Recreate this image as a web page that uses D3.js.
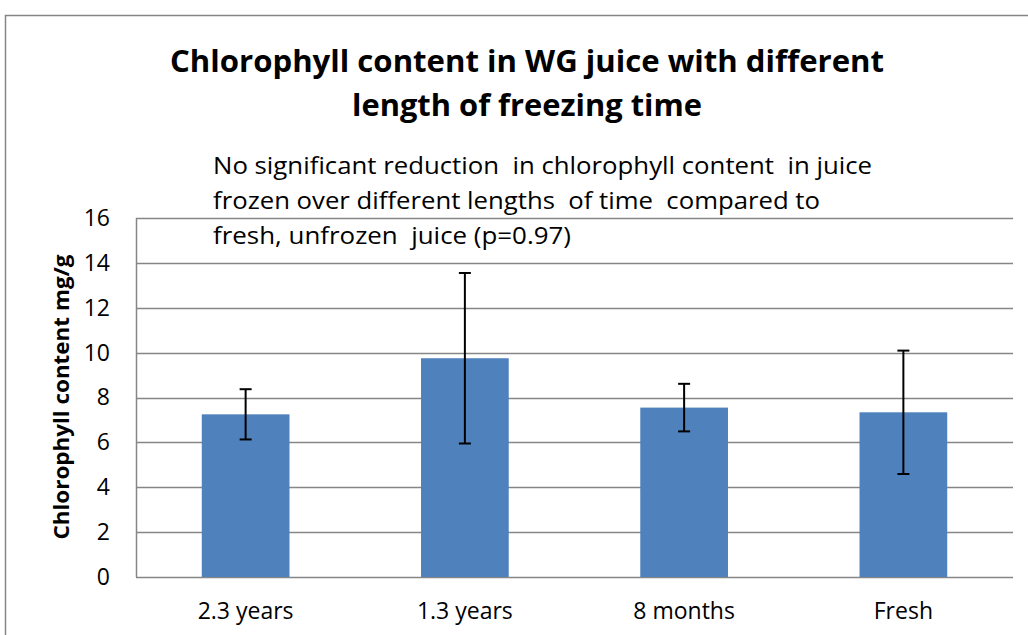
<!DOCTYPE html>
<html>
<head>
<meta charset="utf-8">
<script src="https://cdn.jsdelivr.net/npm/d3@7"></script>
<style>
  body { margin: 0; background: #fff; }
  svg { display: block; font-family: "Open Sans", "Noto Sans", sans-serif; }
</style>
</head>
<body>
<div id="chart"></div>
<script>
// data
var categories = ['2.3 years', '1.3 years', '8 months', 'Fresh'];
var values = [7.25, 9.75, 7.55, 7.34];
var errors = [1.12, 3.8, 1.06, 2.75];
var yTicks = [0, 2, 4, 6, 8, 10, 12, 14, 16];
var titleLines = ['Chlorophyll content in WG juice with different', 'length of freezing time'];
var noteLines = ['No significant reduction  in chlorophyll content  in juice',
                 'frozen over different lengths  of time  compared to',
                 'fresh, unfrozen  juice (p=0.97)'];

var width = 1028, height = 635;
var margin = {top: 218, left: 136, right: 15, bottom: 58};

var svg = d3.select('#chart').append('svg')
    .attr('width', width)
    .attr('height', height);

// chart frame
svg.append('rect')
    .attr('x', 5.5).attr('y', 15.5)
    .attr('width', 1100).attr('height', 700)
    .attr('fill', 'none')
    .attr('stroke', '#868686')
    .attr('stroke-width', 1.5);

var x = d3.scaleBand()
    .domain(categories)
    .range([margin.left, width - margin.right])
    .paddingInner(0.6)
    .paddingOuter(0.3);

var y = d3.scaleLinear()
    .domain([0, 16])
    .range([height - margin.bottom, margin.top]);

// gridlines
svg.append('g')
  .selectAll('line')
  .data(yTicks)
  .enter().append('line')
    .attr('x1', margin.left).attr('x2', width - margin.right)
    .attr('y1', function(d) { return Math.round(y(d)) + 0.5; })
    .attr('y2', function(d) { return Math.round(y(d)) + 0.5; })
    .attr('stroke', '#868686')
    .attr('stroke-width', 1.5);

// left axis line
svg.append('line')
    .attr('x1', margin.left + 0.5).attr('x2', margin.left + 0.5)
    .attr('y1', y(16)).attr('y2', y(0))
    .attr('stroke', '#868686')
    .attr('stroke-width', 1.5);

// y axis labels
var yAxis = d3.axisLeft(y).tickValues(yTicks).tickSize(0).tickPadding(26);
var gy = svg.append('g')
    .attr('transform', 'translate(' + margin.left + ',0)')
    .call(yAxis);
gy.select('.domain').remove();
gy.selectAll('text')
    .attr('font-size', 23)
    .attr('fill', '#000')
    .attr('font-family', '"Open Sans", sans-serif');

// x axis labels
var xAxis = d3.axisBottom(x).tickSize(0).tickPadding(26);
var gx = svg.append('g')
    .attr('transform', 'translate(0,' + y(0) + ')')
    .call(xAxis);
gx.select('.domain').remove();
gx.selectAll('text')
    .attr('font-size', 23)
    .attr('fill', '#000')
    .attr('font-family', '"Open Sans", sans-serif');

// bars
svg.append('g')
  .selectAll('rect')
  .data(values)
  .enter().append('rect')
    .attr('x', function(d, i) { return x(categories[i]); })
    .attr('y', function(d) { return y(d); })
    .attr('width', x.bandwidth())
    .attr('height', function(d) { return y(0) - y(d); })
    .attr('fill', '#4F81BD');

// error bars
var eb = svg.append('g')
  .selectAll('g')
  .data(values)
  .enter().append('g')
    .attr('stroke', '#000')
    .attr('stroke-width', 2);

eb.append('line')
    .attr('x1', function(d, i) { return x(categories[i]) + x.bandwidth() / 2; })
    .attr('x2', function(d, i) { return x(categories[i]) + x.bandwidth() / 2; })
    .attr('y1', function(d, i) { return y(d + errors[i]); })
    .attr('y2', function(d, i) { return y(d - errors[i]); });

eb.selectAll('.cap')
  .data(function(d, i) { return [{v: d + errors[i], i: i}, {v: d - errors[i], i: i}]; })
  .enter().append('line')
    .attr('class', 'cap')
    .attr('x1', function(d) { return x(categories[d.i]) + x.bandwidth() / 2 - 6; })
    .attr('x2', function(d) { return x(categories[d.i]) + x.bandwidth() / 2 + 6; })
    .attr('y1', function(d) { return y(d.v); })
    .attr('y2', function(d) { return y(d.v); });

// y axis title
svg.append('text')
    .attr('transform', 'translate(69,397) rotate(-90)')
    .attr('text-anchor', 'middle')
    .attr('font-size', 21)
    .attr('font-weight', 'bold')
    .attr('textLength', 285)
    .attr('lengthAdjust', 'spacingAndGlyphs')
    .text('Chlorophyll content mg/g');

// chart title
var titleLen = [714, 350];
svg.append('g')
  .selectAll('text')
  .data(titleLines)
  .enter().append('text')
    .attr('x', 527)
    .attr('y', function(d, i) { return 72 + i * 44; })
    .attr('text-anchor', 'middle')
    .attr('font-size', 31)
    .attr('font-weight', 'bold')
    .attr('textLength', function(d, i) { return titleLen[i]; })
    .attr('lengthAdjust', 'spacingAndGlyphs')
    .text(function(d) { return d; });

// annotation
var noteLen = [659, 607, 358];
svg.append('g')
  .selectAll('text')
  .data(noteLines)
  .enter().append('text')
    .attr('x', 213)
    .attr('y', function(d, i) { return 174 + i * 35; })
    .attr('font-size', 24)
    .attr('textLength', function(d, i) { return noteLen[i]; })
    .attr('lengthAdjust', 'spacingAndGlyphs')
    .style('white-space', 'pre')
    .text(function(d) { return d; });
</script>
</body>
</html>
